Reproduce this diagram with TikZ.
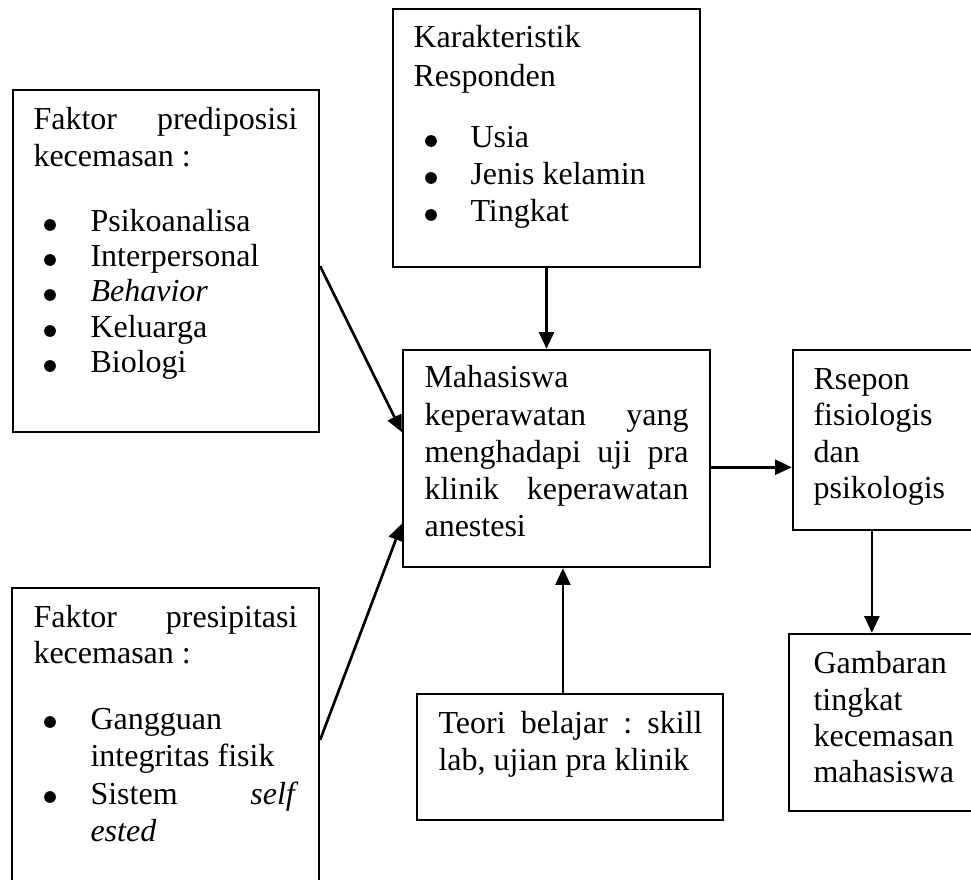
\documentclass[tikz,border=0pt]{standalone}
\usepackage{fontspec}
\setmainfont{Liberation Serif}
\usetikzlibrary{arrows.meta,calc,fit}
\begin{document}
\begin{tikzpicture}[x=0.375pt,y=-0.375pt,
  box/.style={draw, line width=0.85pt, inner sep=0pt, rectangle},
  ln/.style={inner sep=0pt, anchor=base west, font=\fontsize{12}{14}\selectfont},
  dot/.style={circle, fill, inner sep=0pt, minimum size=4.4pt},
  arr/.style={line width=1pt, -{Triangle[length=6.3pt,width=5.6pt]}}]
\useasboundingbox (0,0) rectangle (971,879);
\clip (0,0) rectangle (971,879);

% boxes
\node[box, fit={(13,90) (319,432)}] (A) {};
\node[box, fit={(393,9) (700,267)}] (K) {};
\node[box, fit={(403,350) (710,567)}] (M) {};
\node[box, fit={(793,350) (995,530)}] (R) {};
\node[box, fit={(789,634) (995,811)}] (G) {};
\node[box, fit={(417,694) (723,820)}] (T) {};
\node[box, fit={(12,588) (319,900)}] (P) {};

% box A text
\node[ln] (a0) at (33,130) {\hbox to 99pt{Faktor\hfill prediposisi}};
\node[ln] (a00) at (33,167) {kecemasan :};
\node[dot] (ab1) at (50,225) {};
\node[ln] (a1t) at (90,232) {Psikoanalisa};
\node[dot] (ab2) at (50,260) {};
\node[ln] (a2t) at (90,267) {Interpersonal};
\node[dot] (ab3) at (50,295) {};
\node[ln] (a3t) at (90,302) {\textit{Behavior}};
\node[dot] (ab4) at (50,331) {};
\node[ln] (a4t) at (90,338) {Keluarga};
\node[dot] (ab5) at (50,366) {};
\node[ln] (a5t) at (90,373) {Biologi};

% box K text
\node[ln] (k0) at (413,48) {Karakteristik};
\node[ln] (k00) at (413,87) {Responden};
\node[dot] (kb1) at (431,141) {};
\node[ln] (k1t) at (470,148) {Usia};
\node[dot] (kb2) at (431,178) {};
\node[ln] (k2t) at (470,185) {Jenis kelamin};
\node[dot] (kb3) at (431,215) {};
\node[ln] (k3t) at (470,222) {Tingkat};

% box M text
\node[ln] (m0) at (424,388) {Mahasiswa};
\node[ln] (m1t) at (424,425) {\hbox to 99pt{keperawatan\hfill yang}};
\node[ln] (m2t) at (424,462) {\hbox to 99pt{menghadapi\hfill uji\hfill pra}};
\node[ln] (m3t) at (424,499) {\hbox to 99pt{klinik\hfill keperawatan}};
\node[ln] (m4t) at (424,536) {anestesi};

% box R text
\node[ln] (r0) at (813,390) {Rsepon};
\node[ln] (r1) at (813,426) {fisiologis};
\node[ln] (r2) at (813,462) {dan};
\node[ln] (r3) at (813,498) {psikologis};

% box G text
\node[ln] (g0) at (813,673) {Gambaran};
\node[ln] (g1) at (813,710) {tingkat};
\node[ln] (g2) at (813,746) {kecemasan};
\node[ln] (g3) at (813,782) {mahasiswa};

% box T text
\node[ln] (t0) at (438,733) {\hbox to 99pt{Teori\hfill belajar\hfill :\hfill skill}};
\node[ln] (t1) at (438,770) {lab, ujian pra klinik};

% box P text
\node[ln] (p0) at (33,627) {\hbox to 99pt{Faktor\hfill presipitasi}};
\node[ln] (p00) at (33,663) {kecemasan :};
\node[dot] (pb1) at (50,722) {};
\node[ln] (p1t) at (90,729) {Gangguan};
\node[ln] (p2t) at (90,766) {integritas fisik};
\node[dot] (pb2) at (50,797) {};
\node[ln] (p3t) at (90,804) {\hbox to 78pt{Sistem\hfill \textit{self}}};
\node[ln] (p4t) at (90,841) {\textit{ested}};

% connectors
\draw[arr] (K.south) -- (K.south |- M.north);
\coordinate (aout) at ($(A.north east)!0.515!(A.south east)$);
\coordinate (min1) at ($(M.north west)!0.38!(M.south west)$);
\draw[arr] (aout) -- (min1);
\coordinate (pout) at ($(P.north east)!0.487!(P.south east)$);
\coordinate (min2) at ($(M.north west)!0.797!(M.south west)$);
\draw[arr] (pout) -- (min2);
\coordinate (tout) at ($(T.north west)!0.477!(T.north east)$);
\draw[arr] (tout) -- (tout |- M.south);
\coordinate (mout) at ($(M.north east)!0.54!(M.south east)$);
\draw[arr] (mout) -- (mout -| R.west);
\coordinate (rout) at ($(R.south west)+(80,0)$);
\draw[arr] (rout) -- (rout |- G.north);
\end{tikzpicture}
\end{document}
